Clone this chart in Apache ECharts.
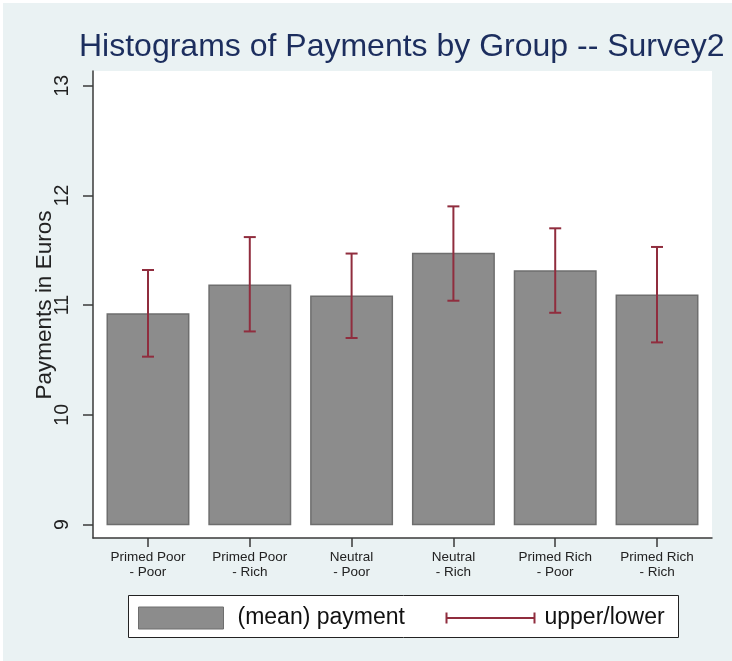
<!DOCTYPE html>
<html>
<head>
<meta charset="utf-8">
<script src="https://cdn.jsdelivr.net/npm/echarts@6/dist/echarts.min.js"></script>
<style>
  html, body { margin: 0; padding: 0; background: #fff; }
  #payments {
    width: 732px; height: 661px;
    background: linear-gradient(#eaf2f3, #eaf2f3) 3px 3px / 100% 100% no-repeat, #fff;
  }
</style>
</head>
<body>
<div id="payments"></div>
<script>
// groups on the x axis
const groups = ['Primed Poor\n- Poor', 'Primed Poor\n- Rich', 'Neutral\n- Poor', 'Neutral\n- Rich', 'Primed Rich\n- Poor', 'Primed Rich\n- Rich'];
// (mean) payment per group
const means = [10.92, 11.18, 11.08, 11.47, 11.31, 11.09];
// upper / lower confidence limits
const upper = [11.32, 11.62, 11.47, 11.90, 11.70, 11.53];
const lower = [10.53, 10.76, 10.70, 11.04, 10.93, 10.66];
// y axis ticks, bars start at the first one
const yTicks = [9, 10, 11, 12, 13];

function draw_payments() {
  var dom = document.getElementById('payments');
  var myChart = echarts.init(dom, null, { renderer: 'canvas' });
  var option;

  const barColor = '#8c8c8c';
  const barBorder = '#6e6e6e';
  const ciColor = '#902d3e';
  const axisColor = '#3a3a3a';
  const font = 'Liberation Sans, Arial, sans-serif';
  const baseValue = yTicks[0];

  const barData = means.map(function (m, i) { return [i, m]; });
  const ciData = groups.map(function (g, i) { return [i, lower[i], upper[i]]; });
  const idx = groups.map(function (g, i) { return i; });

  option = {
    backgroundColor: 'transparent',
    animation: false,
    textStyle: { fontFamily: font },
    title: {
      text: 'Histograms of Payments by Group -- Survey2',
      left: 79,
      top: 31,
      padding: 0,
      textStyle: { fontFamily: font, fontSize: 32, fontWeight: 'normal', color: '#1c2e5e' }
    },
    grid: {
      left: 93,
      top: 71,
      right: 20,
      bottom: 123,
      show: true,
      backgroundColor: '#fff',
      borderWidth: 0
    },
    xAxis: {
      type: 'value',
      min: -0.54,
      max: 5.54,
      splitLine: { show: false },
      axisLine: { show: true, onZero: false, lineStyle: { color: axisColor, width: 1.5 } },
      axisTick: { show: true, length: 9, customValues: idx, lineStyle: { color: axisColor, width: 1.5 } },
      axisLabel: {
        customValues: idx,
        margin: 12,
        fontSize: 13.5,
        lineHeight: 15,
        color: '#222',
        formatter: function (v) { return groups[Math.round(v)]; }
      }
    },
    yAxis: {
      type: 'value',
      min: 8.877,
      max: 13.134,
      splitLine: { show: false },
      axisLine: { show: true, onZero: false, lineStyle: { color: axisColor, width: 1.5 } },
      axisTick: { show: true, length: 10, customValues: yTicks, lineStyle: { color: axisColor, width: 1.5 } },
      axisLabel: {
        customValues: yTicks,
        rotate: 90,
        margin: 20,
        fontSize: 19.5,
        color: '#222'
      }
    },
    legend: [
      {
        data: ['(mean) payment'],
        left: 138,
        top: 605,
        padding: 0,
        icon: 'rect',
        itemWidth: 85,
        itemHeight: 22,
        itemStyle: { color: barColor, borderColor: barBorder, borderWidth: 1 },
        textStyle: { fontSize: 23, lineHeight: 26, color: '#111', padding: [0, 0, 0, 9] }
      },
      {
        data: ['upper/lower'],
        left: 444,
        top: 605,
        padding: 0,
        icon: 'path://M0,0 L0,11 M0,5.5 L88,5.5 M88,0 L88,11',
        itemWidth: 88,
        itemHeight: 11,
        itemStyle: { color: 'none', borderColor: ciColor, borderWidth: 2 },
        textStyle: { fontSize: 23, lineHeight: 26, color: '#111', padding: [0, 0, 0, 5] }
      }
    ],
    graphic: [
      {
        type: 'rect',
        left: 128,
        top: 595,
        z: -1,
        shape: { width: 550, height: 42 },
        style: { fill: '#fff', stroke: '#222', lineWidth: 1 }
      },
      // y axis title
      {
        type: 'text',
        x: 45,
        y: 305,
        rotation: Math.PI / 2,
        style: {
          text: 'Payments in Euros',
          fontFamily: font,
          fontSize: 22.5,
          fill: '#222',
          align: 'center',
          verticalAlign: 'middle'
        }
      }
    ],
    series: [
      {
        name: '(mean) payment',
        type: 'custom',
        data: barData,
        encode: { x: 0, y: 1 },
        itemStyle: { color: barColor },
        renderItem: function (params, api) {
          const i = api.value(0);
          const top = api.coord([i, api.value(1)]);
          const base = api.coord([i, baseValue]);
          const w = api.size([0.8, 0])[0];
          return {
            type: 'rect',
            shape: { x: top[0] - w / 2, y: top[1], width: w, height: base[1] - top[1] },
            style: { fill: barColor, stroke: barBorder, lineWidth: 1.5 }
          };
        }
      },
      {
        name: 'upper/lower',
        type: 'custom',
        data: ciData,
        encode: { x: 0, y: [1, 2] },
        itemStyle: { color: ciColor },
        z: 3,
        renderItem: function (params, api) {
          const i = api.value(0);
          const lo = api.coord([i, api.value(1)]);
          const hi = api.coord([i, api.value(2)]);
          const cap = 6;
          const st = { stroke: ciColor, lineWidth: 2 };
          return {
            type: 'group',
            children: [
              { type: 'line', shape: { x1: hi[0], y1: hi[1], x2: lo[0], y2: lo[1] }, style: st },
              { type: 'line', shape: { x1: hi[0] - cap, y1: hi[1], x2: hi[0] + cap, y2: hi[1] }, style: st },
              { type: 'line', shape: { x1: lo[0] - cap, y1: lo[1], x2: lo[0] + cap, y2: lo[1] }, style: st }
            ]
          };
        }
      }
    ]
  };

  if (option && typeof option === 'object') {
    myChart.setOption(option);
  }
  window.addEventListener('resize', myChart.resize);
}
draw_payments();
</script>
</body>
</html>
